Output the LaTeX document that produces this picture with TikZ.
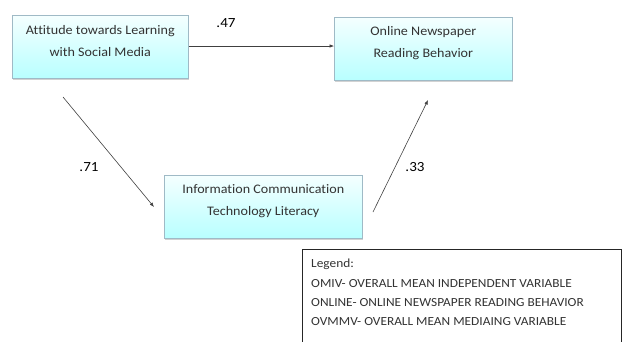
\documentclass[tikz,border=0pt]{standalone}
\usepackage{fontspec}
\setmainfont{Carlito}[FakeStretch=1.08, Ligatures=NoCommon]
\usetikzlibrary{shadows,arrows.meta}
\begin{document}
\begin{tikzpicture}[x=1bp,y=-1bp,
  varbox/.style={draw=cyan!30!gray!70, line width=0.6pt, top color=cyan!4, bottom color=cyan!28,
    drop shadow={shadow xshift=1pt, shadow yshift=-1.5pt, opacity=0.35},
    minimum width=176bp, minimum height=63bp, anchor=north west, inner sep=0pt},
  boxtext/.style={align=center, font=\fontsize{13.1}{22}\selectfont, text=black!80, inner sep=0pt},
  conn/.style={-{Latex[length=4.5pt,width=3.5pt]}, line width=0.6pt, black!75},
  coef/.style={font=\fontsize{14}{16}\selectfont}]
\useasboundingbox (0,0) rectangle (623,341);
\fill[white] (0,0) rectangle (623,341);
\node[varbox] (att) at (12,15) {};
\node[boxtext] (att-t) at ([yshift=5.5bp]att.center) {Attitude towards Learning\\with Social Media};
\node[varbox, minimum width=178bp] (onl) at (334,17) {};
\node[boxtext] (onl-t) at ([yshift=5.5bp]onl.center) {Online Newspaper\\Reading Behavior};
\node[varbox, minimum width=198bp] (ict) at (164,175) {};
\node[boxtext] (ict-t) at ([yshift=6bp]ict.center) {Information Communication\\Technology Literacy};
\coordinate (a1) at (63,97);
\coordinate (a2) at (154,207);
\coordinate (b1) at (373,212);
\coordinate (b2) at (428,100);
\draw[conn] (att.east |- 0,46) -- (onl.west |- 0,46);
\draw[conn] (a1) -- (a2);
\draw[conn] (b1) -- (b2);
\node[coef] (c47) at (226,23) {.47};
\node[coef] (c71) at (89,167) {.71};
\node[coef] (c33) at (415,167) {.33};
\draw[black!85, line width=1pt] (302,249) rectangle (621,350);
\node[anchor=north west, align=left, font=\fontsize{12.4}{19.3}\selectfont, text=black!80, inner sep=0pt] (legt) at (311,259)
{Legend:\\OMIV- OVERALL MEAN INDEPENDENT VARIABLE\\ONLINE- ONLINE NEWSPAPER READING BEHAVIOR\\OVMMV- OVERALL MEAN MEDIAING VARIABLE};
\end{tikzpicture}
\end{document}
